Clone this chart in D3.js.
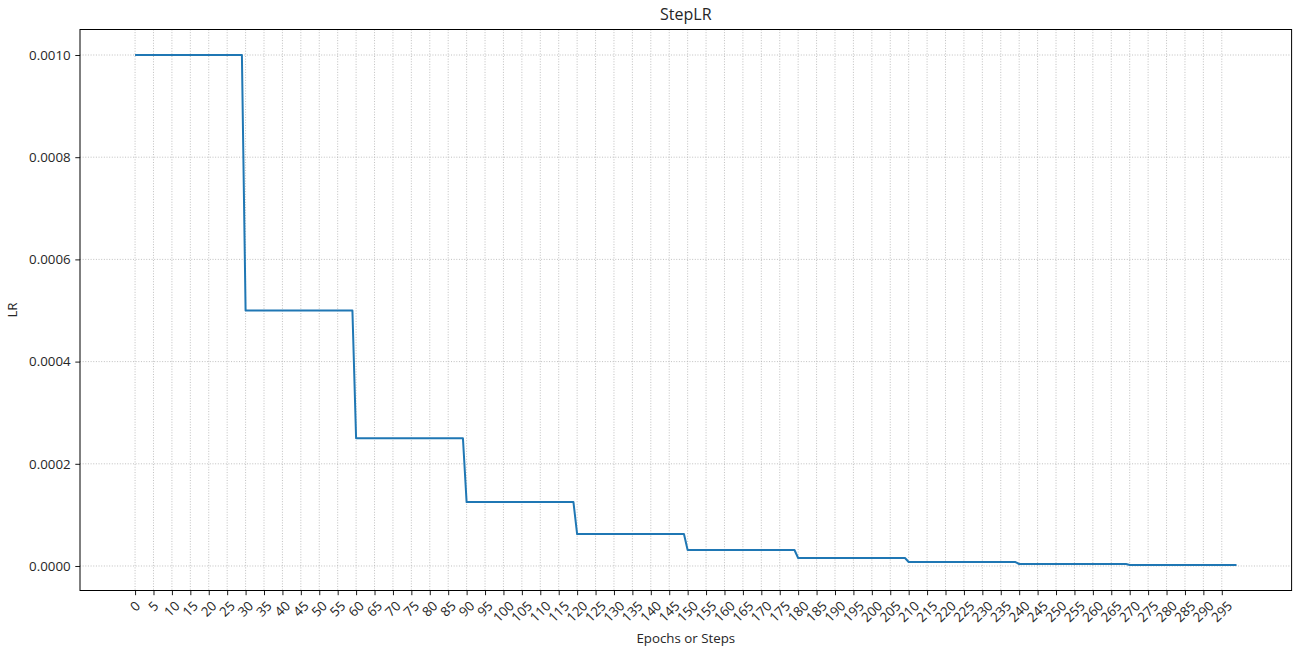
<!DOCTYPE HTML>
<html>
<head>
	<meta charset="UTF-8">
	<script src="https://d3js.org/d3.v7.min.js"></script>
	<style type="text/css">
	body { margin: 0; background: #fff; }
	text { font-family: "Open Sans", "DejaVu Sans", sans-serif; fill: #262626; }
	.grid line { stroke: #b0b0b0; stroke-width: 0.8; stroke-dasharray: 1,1.65; }
	.line { fill: none; stroke: #1f77b4; stroke-width: 2; stroke-linejoin: round; }
	</style>
	<title>StepLR</title>
</head>
<body>
<div id="chart"></div>
<script>
// StepLR schedule: one lr per 30-epoch block
var stepStart = [0, 30, 60, 90, 120, 150, 180, 210, 240, 270];
var stepEnd   = [29, 59, 89, 119, 149, 179, 209, 239, 269, 299];
var lrLevels  = [0.001, 0.0005, 0.00025, 0.000125, 0.0000625,
                 0.00003125, 0.000015625, 0.0000078125, 0.00000390625, 0.000001953125];
var xTicks = d3.range(0, 300, 5);
var yTicks = [0, 0.0002, 0.0004, 0.0006, 0.0008, 0.0010];

var W = 1297, H = 652;
var margin = {top: 29.5, right: 5.4, bottom: 61.5, left: 80};
var width = W - margin.left - margin.right,
    height = H - margin.top - margin.bottom;

// line points: start and end of each block
var points = [];
stepStart.forEach(function(s, i) {
    points.push({x: s, y: lrLevels[i]});
    points.push({x: stepEnd[i], y: lrLevels[i]});
});

// matplotlib style 5% margins
var xExt = d3.extent(points, d => d.x), yExt = d3.extent(points, d => d.y);
var xPad = (xExt[1] - xExt[0]) * 0.05, yPad = (yExt[1] - yExt[0]) * 0.05;

var xScale = d3.scaleLinear().domain([xExt[0] - xPad, xExt[1] + xPad]).range([0, width]);
var yScale = d3.scaleLinear().domain([yExt[0] - yPad, yExt[1] + yPad]).range([height, 0]);

var svg = d3.select("#chart").append("svg")
    .attr("width", W).attr("height", H);
var g = svg.append("g")
    .attr("transform", "translate(" + margin.left + "," + margin.top + ")");

// grid
var grid = g.append("g").attr("class", "grid");
grid.selectAll(".gx").data(xTicks).enter().append("line")
    .attr("x1", d => xScale(d)).attr("x2", d => xScale(d))
    .attr("y1", 0).attr("y2", height);
grid.selectAll(".gy").data(yTicks).enter().append("line")
    .attr("x1", 0).attr("x2", width)
    .attr("y1", d => yScale(d)).attr("y2", d => yScale(d));

// line
g.append("path")
    .datum(points)
    .attr("class", "line")
    .attr("d", d3.line().x(d => xScale(d.x)).y(d => yScale(d.y)));

// x axis
var xAxis = g.append("g")
    .attr("transform", "translate(0," + height + ")")
    .call(d3.axisBottom(xScale).tickValues(xTicks).tickSize(4.7).tickFormat(""));
xAxis.select(".domain").remove();
xAxis.selectAll(".tick line").attr("stroke", "#000").attr("stroke-width", 0.9);

var xl = g.append("g").attr("class", "xlabels");
xTicks.forEach(function(t) {
    var txt = xl.append("text")
        .attr("font-size", "13.3px")
        .attr("text-anchor", "middle")
        .attr("dy", "0.35em")
        .text(t);
    var w = txt.node().getComputedTextLength(), h = 10;
    var half = (w + h) * Math.SQRT1_2 / 2;
    txt.attr("transform", "translate(" + xScale(t) + "," + (height + 9.5 + half) + ") rotate(-45)");
});

// y axis
var yAxis = g.append("g")
    .call(d3.axisLeft(yScale).tickValues(yTicks).tickSize(4.7).tickPadding(4.7)
        .tickFormat(d3.format(".4f")));
yAxis.select(".domain").remove();
yAxis.selectAll(".tick line").attr("stroke", "#000").attr("stroke-width", 0.9);
yAxis.selectAll(".tick text").attr("font-size", "13.3px").attr("font-family", null).attr("fill", "#262626");

// frame
g.append("rect")
    .attr("width", width).attr("height", height)
    .attr("fill", "none").attr("stroke", "#000").attr("stroke-width", 1);

// titles
svg.append("text")
    .attr("x", margin.left + width / 2).attr("y", 20)
    .attr("text-anchor", "middle").attr("font-size", "16px")
    .text("StepLR");
svg.append("text")
    .attr("x", margin.left + width / 2).attr("y", 643)
    .attr("text-anchor", "middle").attr("font-size", "13.3px")
    .text("Epochs or Steps");
svg.append("text")
    .attr("transform", "translate(17," + (margin.top + height / 2) + ") rotate(-90)")
    .attr("text-anchor", "middle").attr("font-size", "13.3px")
    .text("LR");
</script>
</body>
</html>
